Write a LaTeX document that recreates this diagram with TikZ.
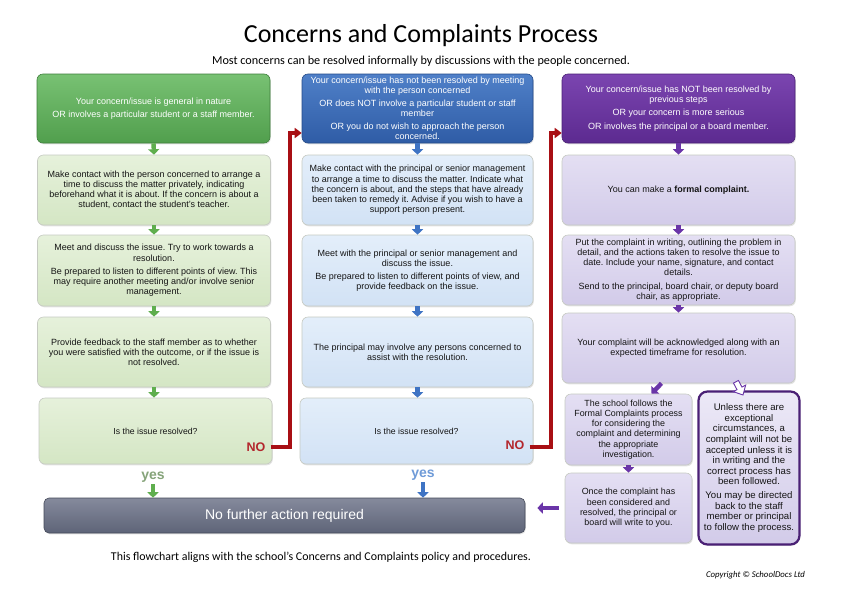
\documentclass[tikz,border=0pt]{standalone}
\usepackage{fontspec}
\setmainfont{Carlito}
\newfontfamily\arialf{Liberation Sans}
\usetikzlibrary{shadows,arrows.meta,calc}
\frenchspacing
\definecolor{gHT}{HTML}{78C173}\definecolor{gHB}{HTML}{519F4D}\definecolor{gHD}{HTML}{3F7F3C}
\definecolor{gBT}{HTML}{E6F1DB}\definecolor{gBB}{HTML}{D4E6C4}
\definecolor{bHT}{HTML}{4F80C8}\definecolor{bHB}{HTML}{2F5CA6}\definecolor{bHD}{HTML}{244A88}
\definecolor{bBT}{HTML}{E3EEFA}\definecolor{bBB}{HTML}{D2E2F5}
\definecolor{pHT}{HTML}{7B45B0}\definecolor{pHB}{HTML}{5C2A90}\definecolor{pHD}{HTML}{4A2075}
\definecolor{pBT}{HTML}{E4DFF3}\definecolor{pBB}{HTML}{D2CBE9}
\definecolor{lightB}{HTML}{C6CAC2}
\definecolor{grT}{HTML}{858A9C}\definecolor{grB}{HTML}{5E6478}\definecolor{grD}{HTML}{454A5A}
\definecolor{arG}{HTML}{5FAE4E}\definecolor{arB}{HTML}{3F74C4}\definecolor{arP}{HTML}{6A35A8}
\definecolor{redL}{HTML}{A80F14}\definecolor{noR}{HTML}{B3262C}
\definecolor{yesG}{HTML}{86A47A}\definecolor{yesB}{HTML}{6F9BD8}
\definecolor{txt}{HTML}{151515}
\tikzset{
  box/.style={rounded corners=6pt, align=center, inner sep=2pt, line width=0.6pt,
    font=\arialf\fontsize{9}{10.2}\selectfont,
    drop shadow={opacity=0.22,shadow xshift=0.8pt,shadow yshift=-1.3pt}},
  ghead/.style={box, draw=gHD, top color=gHT, bottom color=gHB, text=white},
  bhead/.style={box, draw=bHD, top color=bHT, bottom color=bHB, text=white},
  phead/.style={box, draw=pHD, top color=pHT, bottom color=pHB, text=white},
  gbody/.style={box, draw=lightB, top color=gBT, bottom color=gBB, text=txt},
  bbody/.style={box, draw=lightB, top color=bBT, bottom color=bBB, text=txt},
  pbody/.style={box, draw=lightB, top color=pBT, bottom color=pBB, text=txt},
  smallbox/.style={font=\arialf\fontsize{8.9}{10.3}\selectfont},
  pstrong/.style={box, draw=pHD, line width=2.2pt, rounded corners=9pt, top color=pBT!70!white, bottom color=pBB, text=txt,
    font=\arialf\fontsize{9.6}{10.6}\selectfont},
  graybox/.style={box, rounded corners=5pt, draw=grD, top color=grT, bottom color=grB, text=white,
    font=\arialf\fontsize{14}{16}\selectfont},
  blockarrow/.style={line width=4.4pt, -{Triangle[width=11pt,length=5.5pt]}},
  garrow/.style={blockarrow, draw=arG, fill=arG},
  barrow/.style={blockarrow, draw=arB, fill=arB},
  parrow/.style={blockarrow, draw=arP, fill=arP},
  redline/.style={draw=redL, line width=3.2pt, -{Triangle[width=10pt,length=7pt]}},
  nolabel/.style={font=\arialf\bfseries\fontsize{12.5}{13}\selectfont, text=noR, inner sep=1pt},
  yeslabel/.style={font=\arialf\bfseries\fontsize{14}{15}\selectfont, inner sep=1pt},
  question/.style={font=\arialf\fontsize{8.7}{10}\selectfont},
}
\begin{document}
\begin{tikzpicture}[x=1pt,y=-1pt]
\useasboundingbox[fill=white] (0,0) rectangle (841,595);
% titles
\node[font=\fontsize{26}{30}\selectfont] (title) at (421,36) {Concerns and Complaints Process};
\node[font=\fontsize{12.2}{14}\selectfont] (sub) at (421,61) {Most concerns can be resolved informally by discussions with the people concerned.};
% green column
\node[ghead, minimum width=233pt, minimum height=69pt] (g1) at (153.5,108.5)
 {Your concern/issue is general in nature\\[3pt]OR involves a particular student or a staff member.};
\node[gbody, minimum width=233pt, minimum height=70pt] (g2) at (154,190)
 {Make contact with the person concerned to arrange a\\time to discuss the matter privately, indicating\\beforehand what it is about. If the concern is about a\\student, contact the student’s teacher.};
\node[gbody, minimum width=233pt, minimum height=71pt] (g3) at (154,270.5)
 {Meet and discuss the issue. Try to work towards a\\resolution.\\[3pt]Be prepared to listen to different points of view. This\\may require another meeting and/or involve senior\\management.};
\node[gbody, minimum width=233pt, minimum height=70pt] (g4) at (154,352)
 {Provide feedback to the staff member as to whether\\you were satisfied with the outcome, or if the issue is\\not resolved.};
\node[gbody, question, minimum width=233pt, minimum height=66pt] (g5) at (155.5,431)
 {Is the issue resolved?};
% blue column
\node[bhead, minimum width=231pt, minimum height=69pt] (b1) at (417.5,108.5)
 {Your concern/issue has not been resolved by meeting\\with the person concerned\\[2.5pt]OR does NOT involve a particular student or staff\\member\\[2.5pt]OR you do not wish to approach the person\\concerned.};
\node[bbody, minimum width=231pt, minimum height=70pt] (b2) at (417.5,190)
 {Make contact with the principal or senior management\\to arrange a time to discuss the matter. Indicate what\\the concern is about, and the steps that have already\\been taken to remedy it. Advise if you wish to have a\\support person present.};
\node[bbody, minimum width=231pt, minimum height=71pt] (b3) at (417.5,270.5)
 {Meet with the principal or senior management and\\discuss the issue.\\[3pt]Be prepared to listen to different points of view, and\\provide feedback on the issue.};
\node[bbody, minimum width=231pt, minimum height=70pt] (b4) at (417.5,352)
 {The principal may involve any persons concerned to\\assist with the resolution.};
\node[bbody, question, minimum width=233pt, minimum height=66pt] (b5) at (416.5,431)
 {Is the issue resolved?};
% purple column
\node[phead, minimum width=233pt, minimum height=69pt] (p1) at (678.5,108.5)
 {Your concern/issue has NOT been resolved by\\previous steps\\[3pt]OR your concern is more serious\\[3pt]OR involves the principal or a board member.};
\node[pbody, minimum width=233pt, minimum height=70pt] (p2) at (678.5,190)
 {You can make a \textbf{formal complaint.}};
\node[pbody, minimum width=233pt, minimum height=70pt] (p3) at (678.5,270)
 {Put the complaint in writing, outlining the problem in\\detail, and the actions taken to resolve the issue to\\date. Include your name, signature, and contact\\details.\\[3pt]Send to the principal, board chair, or deputy board\\chair, as appropriate.};
\node[pbody, minimum width=233pt, minimum height=70pt] (p4) at (678.5,348)
 {Your complaint will be acknowledged along with an\\expected timeframe for resolution.};
\node[pbody, smallbox, minimum width=127pt, minimum height=71pt, inner sep=1pt] (pa) at (628.5,429.5)
 {The school follows the\\Formal Complaints process\\for considering the\\complaint and determining\\the appropriate\\investigation.};
\node[pbody, smallbox, minimum width=127pt, minimum height=70pt, inner sep=1pt] (pb) at (628.5,508)
 {Once the complaint has\\been considered and\\resolved, the principal or\\board will write to you.};
\node[pstrong, minimum width=101pt, minimum height=153pt, inner sep=1pt] (pr) at (749,468)
 {Unless there are\\exceptional\\circumstances, a\\complaint will not be\\accepted unless it is\\in writing and the\\correct process has\\been followed.\\[3pt]You may be directed\\back to the staff\\member or principal\\to follow the process.};
% bottom
\node[graybox, minimum width=481pt, minimum height=35pt] (gray) at (284.5,515.5) {No further action required};
\node[font=\fontsize{11.9}{13}\selectfont] (foot) at (321,557) {This flowchart aligns with the school’s Concerns and Complaints policy and procedures.};
\node[font=\itshape\fontsize{8.8}{10}\selectfont] (copy) at (755.5,575) {Copyright © SchoolDocs Ltd};
% NO / yes labels
\node[nolabel] (noG) at (256,447) {NO};
\node[nolabel] (noB) at (515,445) {NO};
\node[yeslabel, text=yesG] (yesG) at (153,477) {yes};
\node[yeslabel, text=yesB] (yesB) at (423,475) {yes};
% green arrows
\draw[garrow] (g1.south) -- (g2.north);
\draw[garrow] (g2.south) -- (g3.north);
\draw[garrow] (g3.south) -- (g4.north);
\draw[garrow] (g4.south) -- (g5.north -| g4.south);
\draw[garrow] ([yshift=-1pt]yesG.south) -- (yesG.south |- gray.north);
% blue arrows
\draw[barrow] (b1.south) -- (b2.north);
\draw[barrow] (b2.south) -- (b3.north);
\draw[barrow] (b3.south) -- (b4.north);
\draw[barrow] (b4.south) -- (b5.north -| b4.south);
\draw[barrow] ([yshift=-1pt]yesB.south) -- (yesB.south |- gray.north);
% purple arrows
\draw[parrow] (p1.south) -- (p2.north);
\draw[parrow] (p2.south) -- (p3.north);
\draw[parrow] (p3.south) -- (p4.north);
\draw[parrow] ([xshift=-17pt]p4.south) -- ([xshift=23pt]pa.north);
\draw[parrow] (pa.south) -- (pb.north);
\draw[parrow] ([xshift=-6pt]pb.west) -- ([xshift=12pt]gray.east |- pb.west);
% hollow arrow
\coordinate (ha) at (743,395);
\draw[draw=arP, fill=white, line width=0.9pt, line join=miter, shift={(ha)}, rotate=28]
  (-2.8,-15) -- (2.8,-15) -- (2.8,-7.5) -- (7,-7.5) -- (0,0) -- (-7,-7.5) -- (-2.8,-7.5) -- cycle;
% red NO connectors
\coordinate (r1) at (290,133);
\coordinate (r2) at (551,133);
\draw[redline] ([xshift=4pt]noG.east) -| (r1) -- (r1 -| b1.west);
\draw[redline] ([xshift=4pt,yshift=-2pt]noB.east) -| (r2) -- (r2 -| p1.west);
\end{tikzpicture}
\end{document}
